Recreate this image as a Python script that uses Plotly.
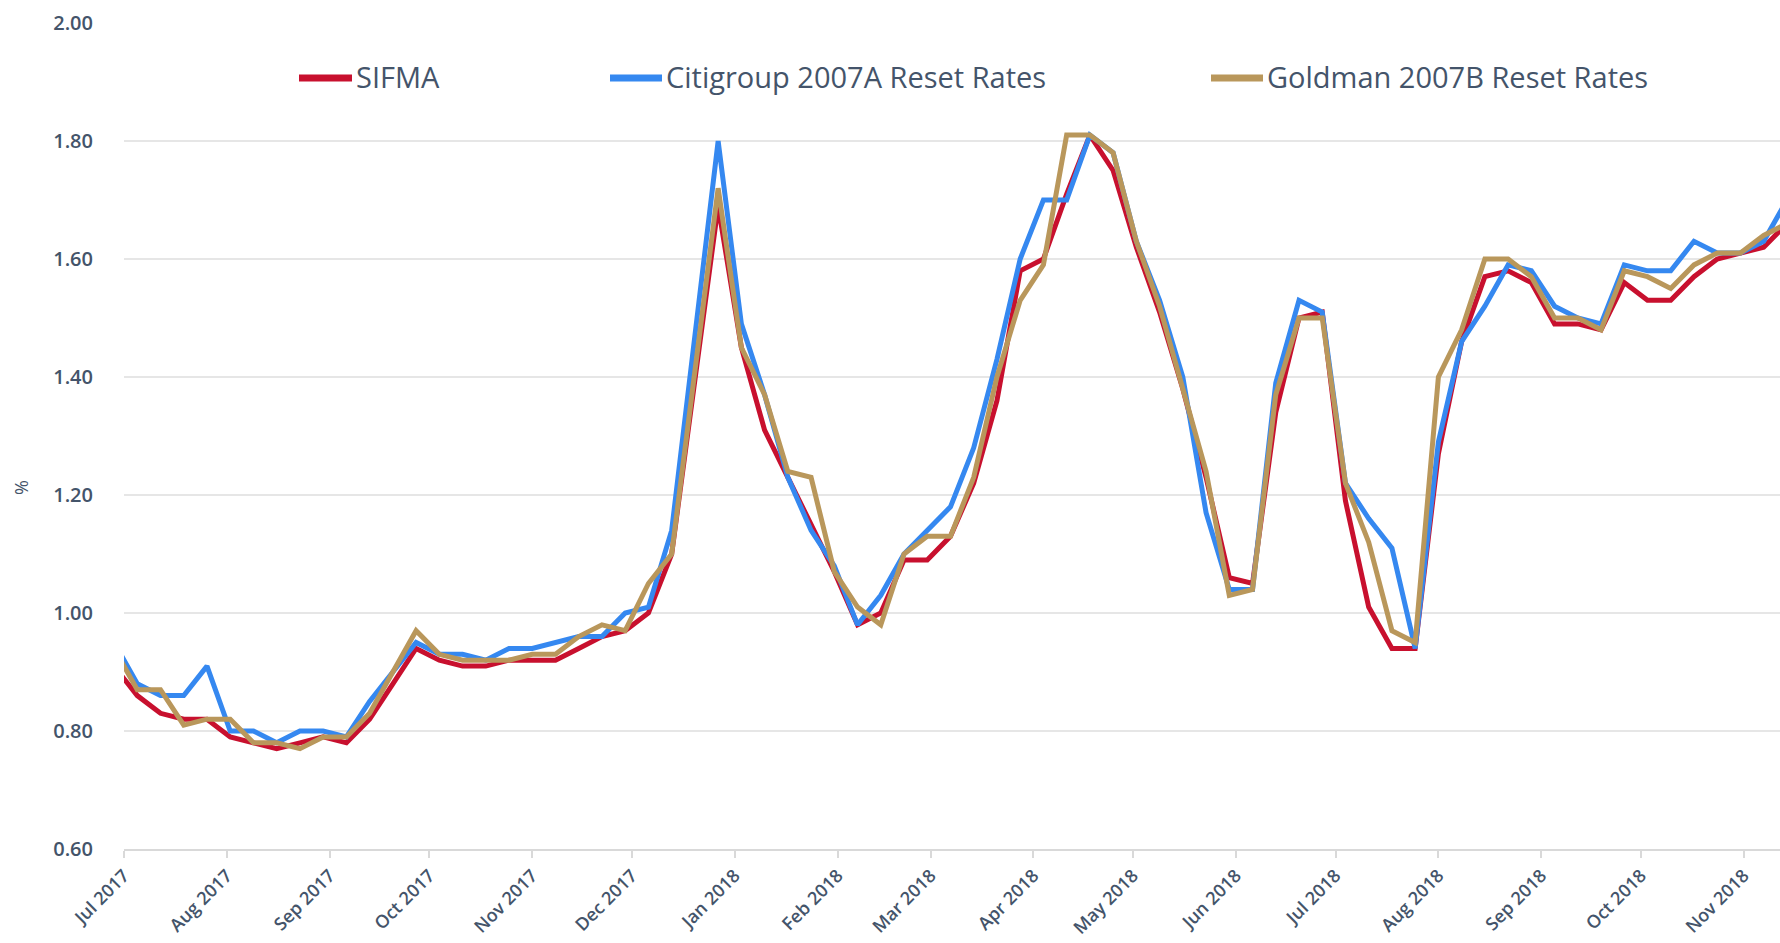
import plotly.graph_objects as go

# ---- data (weekly reset dates) ----
dates = [
    "2017-06-28", "2017-07-05", "2017-07-12", "2017-07-19", "2017-07-26",
    "2017-08-02", "2017-08-09", "2017-08-16", "2017-08-23", "2017-08-30",
    "2017-09-06", "2017-09-13", "2017-09-20", "2017-09-27",
    "2017-10-04", "2017-10-11", "2017-10-18", "2017-10-25",
    "2017-11-01", "2017-11-08", "2017-11-15", "2017-11-22", "2017-11-29",
    "2017-12-06", "2017-12-13", "2017-12-27",
    "2018-01-03", "2018-01-10", "2018-01-17", "2018-01-24", "2018-01-31",
    "2018-02-07", "2018-02-14", "2018-02-21", "2018-02-28",
    "2018-03-07", "2018-03-14", "2018-03-21", "2018-03-28",
    "2018-04-04", "2018-04-11", "2018-04-18", "2018-04-25",
    "2018-05-02", "2018-05-09", "2018-05-16", "2018-05-23", "2018-05-30",
    "2018-06-06", "2018-06-13", "2018-06-20", "2018-06-27",
    "2018-07-04", "2018-07-11", "2018-07-18", "2018-07-25",
    "2018-08-01", "2018-08-08", "2018-08-15", "2018-08-22", "2018-08-29",
    "2018-09-05", "2018-09-12", "2018-09-19", "2018-09-26",
    "2018-10-03", "2018-10-10", "2018-10-17", "2018-10-24", "2018-10-31",
    "2018-11-07", "2018-11-14",
]

sifma = [
    0.91, 0.86, 0.83, 0.82, 0.82,
    0.79, 0.78, 0.77, 0.78, 0.79,
    0.78, 0.82, 0.88, 0.94,
    0.92, 0.91, 0.91, 0.92,
    0.92, 0.92, 0.94, 0.96, 0.97,
    1.00, 1.10, 1.69,
    1.45, 1.31, 1.23, 1.15, 1.07,
    0.98, 1.00, 1.09, 1.09,
    1.13, 1.22, 1.36, 1.58,
    1.60, 1.71, 1.81, 1.75,
    1.62, 1.51, 1.38, 1.23, 1.06,
    1.05, 1.34, 1.50, 1.51,
    1.19, 1.01, 0.94, 0.94,
    1.27, 1.46, 1.57, 1.58, 1.56,
    1.49, 1.49, 1.48, 1.56,
    1.53, 1.53, 1.57, 1.60, 1.61,
    1.62, 1.66,
]

citigroup = [
    0.95, 0.88, 0.86, 0.86, 0.91,
    0.80, 0.80, 0.78, 0.80, 0.80,
    0.79, 0.85, 0.90, 0.95,
    0.93, 0.93, 0.92, 0.94,
    0.94, 0.95, 0.96, 0.96, 1.00,
    1.01, 1.14, 1.80,
    1.49, 1.37, 1.23, 1.14, 1.08,
    0.98, 1.03, 1.10, 1.14,
    1.18, 1.28, 1.43, 1.60,
    1.70, 1.70, 1.81, 1.78,
    1.63, 1.53, 1.40, 1.17, 1.04,
    1.04, 1.39, 1.53, 1.51,
    1.22, 1.16, 1.11, 0.94,
    1.29, 1.46, 1.52, 1.59, 1.58,
    1.52, 1.50, 1.49, 1.59,
    1.58, 1.58, 1.63, 1.61, 1.61,
    1.63, 1.70,
]

goldman = [
    0.94, 0.87, 0.87, 0.81, 0.82,
    0.82, 0.78, 0.78, 0.77, 0.79,
    0.79, 0.83, 0.90, 0.97,
    0.93, 0.92, 0.92, 0.92,
    0.93, 0.93, 0.96, 0.98, 0.97,
    1.05, 1.10, 1.72,
    1.45, 1.37, 1.24, 1.23, 1.07,
    1.01, 0.98, 1.10, 1.13,
    1.13, 1.23, 1.40, 1.53,
    1.59, 1.81, 1.81, 1.78,
    1.63, 1.52, 1.38, 1.24, 1.03,
    1.04, 1.37, 1.50, 1.50,
    1.22, 1.12, 0.97, 0.95,
    1.40, 1.48, 1.60, 1.60, 1.57,
    1.50, 1.50, 1.48, 1.58,
    1.57, 1.55, 1.59, 1.61, 1.61,
    1.64, 1.66,
]

series_names = ["SIFMA", "Citigroup 2007A Reset Rates", "Goldman 2007B Reset Rates"]
series_values = [sifma, citigroup, goldman]
series_colors = ["#C8102E", "#3588F0", "#B9975B"]

# ---- layout constants ----
W, H = 1780, 943
ML, MR, MT, MB = 124, 0, 23, 94
PW, PH = W - ML - MR, H - MT - MB
TEXT = "#44546A"
FONT = "Open Sans"


def px_x(px):
    return (px - ML) / PW


def px_y(py):
    return (H - MB - py) / PH


fig = go.Figure()
for name, vals, col in zip(series_names, series_values, series_colors):
    fig.add_trace(go.Scatter(
        x=dates, y=vals, name=name, mode="lines",
        line=dict(color=col, width=5),
        showlegend=False,
    ))

# custom legend (swatch + label) laid out as in the reference
legend_swatch = [(299, 352), (610, 662), (1211, 1263)]
legend_y = 78
shapes = []
annotations = []
for (x0, x1), name, col in zip(legend_swatch, series_names, series_colors):
    shapes.append(dict(type="line", xref="paper", yref="paper",
                       x0=px_x(x0), x1=px_x(x1), y0=px_y(legend_y), y1=px_y(legend_y),
                       line=dict(color=col, width=7)))
    annotations.append(dict(xref="paper", yref="paper", x=px_x(x1 + 2), y=px_y(legend_y - 2),
                            xanchor="left", yanchor="middle", showarrow=False,
                            text=name, font=dict(family=FONT, size=29, color=TEXT)))

annotations.append(dict(xref="paper", yref="paper", x=px_x(21), y=px_y(488),
                        xanchor="center", yanchor="middle", showarrow=False,
                        text="%", textangle=-90,
                        font=dict(family=FONT, size=18, color=TEXT)))

fig.update_layout(
    width=W, height=H,
    margin=dict(l=ML, r=MR, t=MT, b=MB, pad=0, autoexpand=False),
    plot_bgcolor="white", paper_bgcolor="white",
    font=dict(family=FONT, color=TEXT),
    shapes=shapes, annotations=annotations,
    showlegend=False,
    xaxis=dict(
        type="date", automargin=False,
        range=["2017-07-01", "2018-11-11 22:00"],
        tick0="2017-07-01", dtick="M1", tickformat="%b %Y",
        tickangle=-45,
        ticks="outside", ticklen=7, tickwidth=2, tickcolor="#d9d9d9",
        showline=True, linecolor="#d9d9d9", linewidth=2,
        showgrid=False, zeroline=False,
        tickfont=dict(family=FONT, size=18, color=TEXT, weight=600),
    ),
    yaxis=dict(
        automargin=False,
        range=[0.6, 2.0], dtick=0.2, tick0=0.6, tickformat=".2f",
        showgrid=True, gridcolor="#e6e6e6", gridwidth=2,
        zeroline=False, showline=False,
        ticks="outside", ticklen=26, tickcolor="rgba(0,0,0,0)",
        tickfont=dict(family=FONT, size=20, color=TEXT, weight=600),
    ),
)

fig.write_html("out.html", config={"displayModeBar": False},
               post_script="document.body.style.margin='0';")
